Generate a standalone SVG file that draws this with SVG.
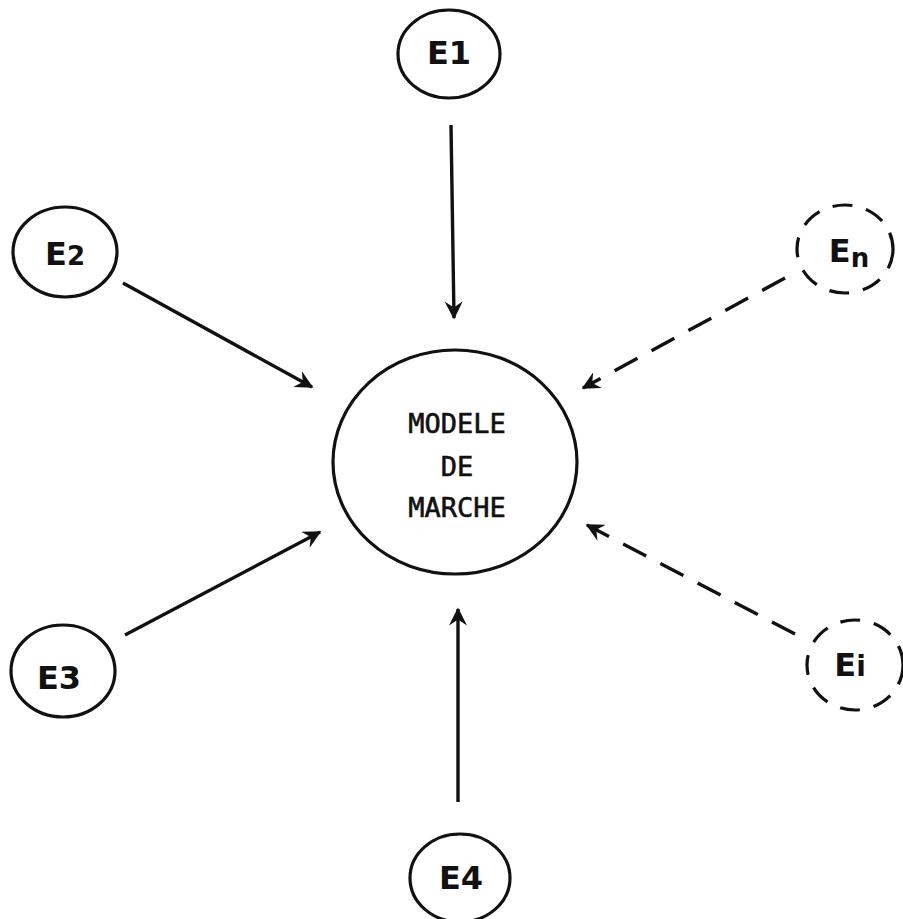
<svg xmlns="http://www.w3.org/2000/svg" width="903" height="919" viewBox="0 0 903 919">
<defs>
<style>
.node{fill:none;stroke:#111;stroke-width:3.2}
.dnode{fill:none;stroke:#111;stroke-width:3.2;stroke-dasharray:20 14}
.lab{font-family:"DejaVu Sans","Liberation Sans",sans-serif;font-weight:bold;font-size:32px;fill:#111;text-anchor:middle}
.main{font-family:"DejaVu Sans Mono","Liberation Mono",monospace;font-size:27px;fill:#111;stroke:#111;stroke-width:0.6;text-anchor:middle}
.edge{fill:none;stroke:#111;stroke-width:3.4;marker-end:url(#ah)}
.dedge{fill:none;stroke:#111;stroke-width:3.4;stroke-dasharray:26 16;marker-end:url(#ah)}
</style>
<marker id="ah" viewBox="0 0 12 12" refX="11" refY="6" markerWidth="22" markerHeight="18" orient="auto" markerUnits="userSpaceOnUse">
<path d="M0,0 L12,6 L0,12 L4,6 z" fill="#111"/>
</marker>
</defs>
<rect width="903" height="919" fill="#fff"/>
<g id="connectors">
<line class="edge" x1="451" y1="125" x2="454" y2="318"/>
<line class="edge" x1="123" y1="283" x2="312" y2="387"/>
<line class="edge" x1="125" y1="635" x2="320" y2="532"/>
<line class="edge" x1="458" y1="802" x2="458" y2="609"/>
<line class="dedge" x1="785" y1="278" x2="583" y2="388"/>
<line class="dedge" x1="795" y1="634" x2="587" y2="525"/>
</g>
<g id="modele">
<ellipse class="node" cx="455" cy="462" rx="122" ry="112"/>
<text class="main" x="457" y="433">MODELE</text>
<text class="main" x="457" y="476">DE</text>
<text class="main" x="457" y="517">MARCHE</text>
</g>
<g id="E1">
<ellipse class="node" cx="449" cy="54" rx="51" ry="44"/>
<text class="lab" x="449" y="64">E1</text>
</g>
<g id="E2">
<ellipse class="node" cx="65" cy="252" rx="52" ry="45"/>
<text class="lab" x="65" y="265">E<tspan font-size="26">2</tspan></text>
</g>
<g id="E3">
<ellipse class="node" cx="63" cy="671" rx="52" ry="46"/>
<text class="lab" x="59" y="689">E3</text>
</g>
<g id="E4">
<ellipse class="node" cx="460" cy="878" rx="50" ry="44"/>
<text class="lab" x="461" y="889">E4</text>
</g>
<g id="En">
<ellipse class="dnode" cx="845" cy="249" rx="48" ry="44"/>
<text class="lab" x="849" y="262">E<tspan font-size="26" dy="5">n</tspan></text>
</g>
<g id="Ei">
<ellipse class="dnode" cx="855" cy="665" rx="48" ry="45"/>
<text class="lab" x="850" y="676">E<tspan font-size="28">i</tspan></text>
</g>
</svg>
